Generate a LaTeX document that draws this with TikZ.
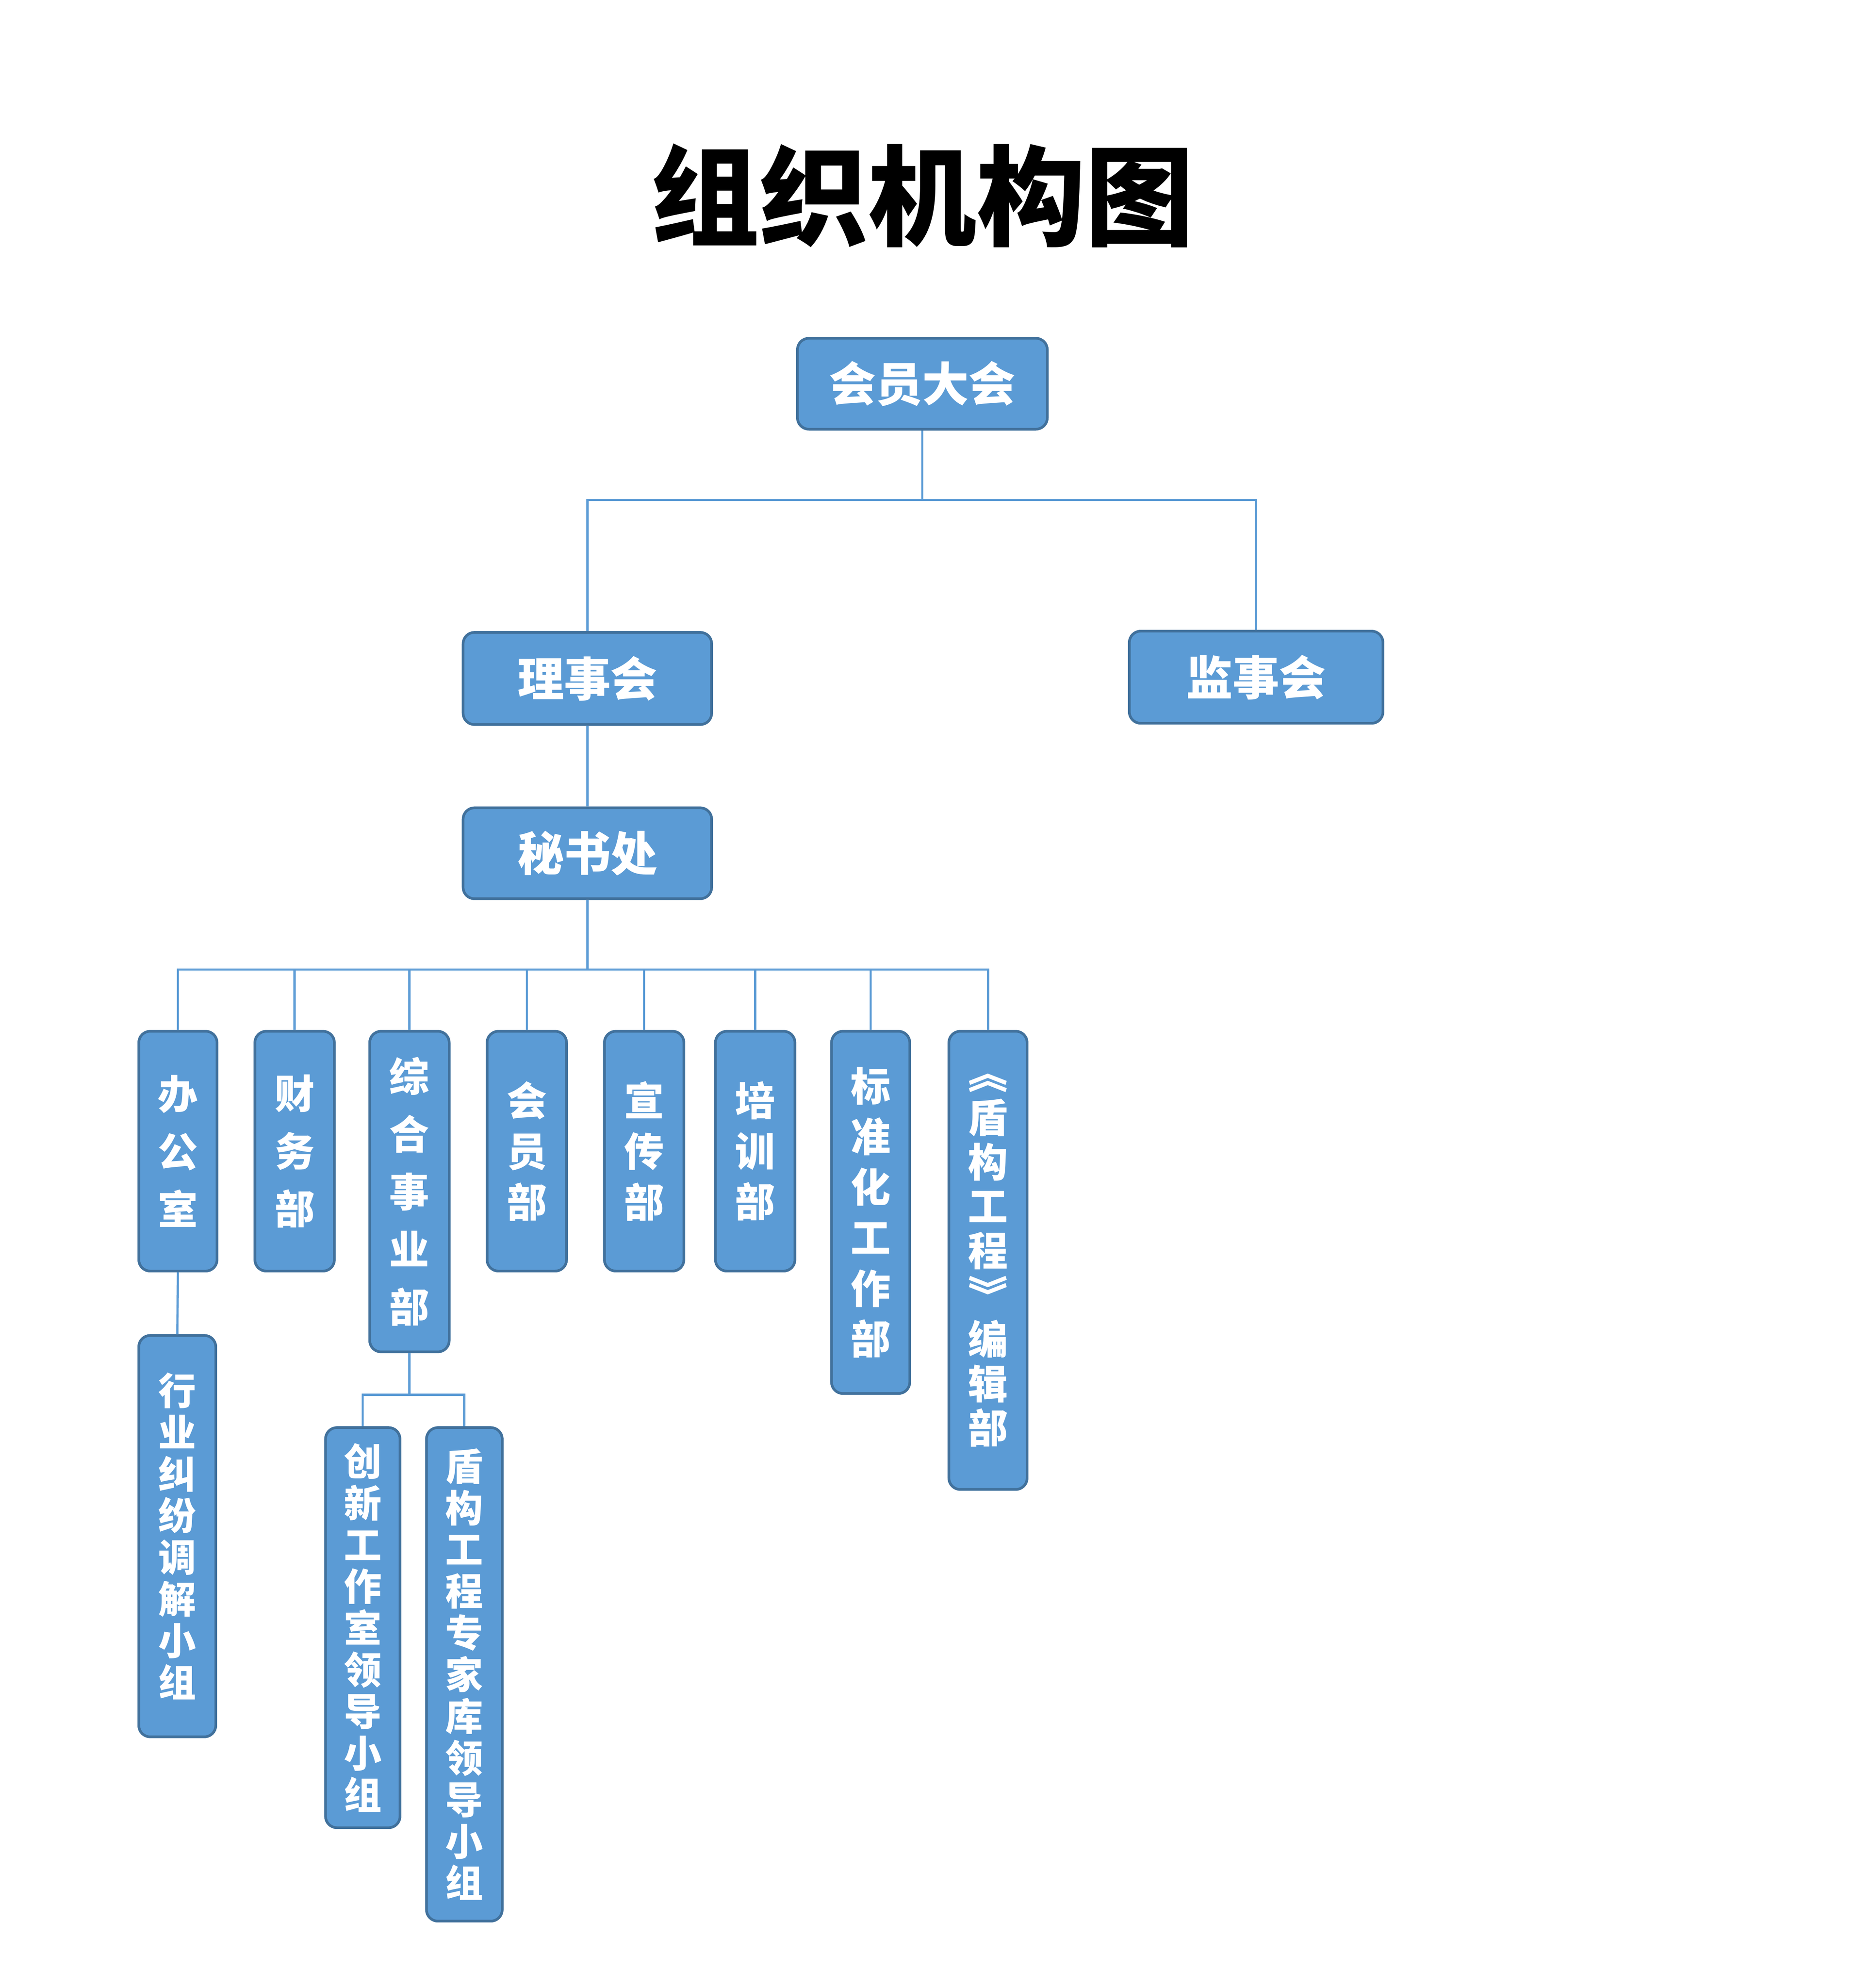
\documentclass[tikz,border=0pt]{standalone}
\usepackage{fontspec}
\newfontfamily\cjk{Noto Sans CJK SC}
\usetikzlibrary{positioning}
\definecolor{BoxClr}{RGB}{91,155,213}
\definecolor{EdgeClr}{RGB}{65,113,156}
\tikzset{
  box/.style={draw=EdgeClr,line width=0.6pt,fill=BoxClr,rounded corners=0.09cm,
    text=white,inner sep=0pt,align=center},
  wide/.style={box,font=\cjk\bfseries\fontsize{10.5}{12}\selectfont},
  tall/.style={box,font=\cjk\bfseries\fontsize{9}{13}\selectfont},
  thin/.style={box,font=\cjk\bfseries\fontsize{8.5}{9.4}\selectfont},
  link/.style={draw=BoxClr,line width=0.5pt}
}
\begin{document}
\begin{tikzpicture}
\useasboundingbox (0,0) rectangle (14.70,-15.75);

\node[font=\cjk\bfseries\fontsize{24.5}{26}\selectfont] (title) at (7.31,-1.55) {组织机构图};

% top levels
\node[wide,minimum width=1.98cm,minimum height=0.72cm] (dahui) at (7.31,-3.04) {会员大会};
\node[wide,minimum width=1.97cm,minimum height=0.73cm] (lishi) at (4.655,-5.375) {理事会};
\node[wide,minimum width=2.01cm,minimum height=0.73cm] (jianshi) at (9.955,-5.365) {监事会};
\node[wide,minimum width=1.97cm,minimum height=0.72cm] (mishu) at (4.655,-6.76) {秘书处};

% departments
\node[tall,minimum width=0.62cm,minimum height=1.90cm] (bangong) at (1.41,-9.12) {办\\公\\室};
\node[tall,minimum width=0.63cm,minimum height=1.90cm] (caiwu) at (2.335,-9.12) {财\\务\\部};
\node[tall,minimum width=0.63cm,minimum height=2.54cm] (zonghe) at (3.245,-9.44) {综\\合\\事\\业\\部};
\node[tall,font=\cjk\bfseries\fontsize{9}{11.4}\selectfont,minimum width=0.63cm,minimum height=1.90cm] (huiyuan) at (4.175,-9.12) {会\\员\\部};
\node[tall,font=\cjk\bfseries\fontsize{9}{11.4}\selectfont,minimum width=0.63cm,minimum height=1.90cm] (xuanchuan) at (5.105,-9.12) {宣\\传\\部};
\node[tall,font=\cjk\bfseries\fontsize{9}{11.4}\selectfont,minimum width=0.63cm,minimum height=1.90cm] (peixun) at (5.985,-9.12) {培\\训\\部};
\node[tall,font=\cjk\bfseries\fontsize{9}{11.4}\selectfont,minimum width=0.62cm,minimum height=2.87cm] (biaozhun) at (6.90,-9.605) {标\\准\\化\\工\\作\\部};
\node[tall,font=\cjk\bfseries\fontsize{9}{10}\selectfont,minimum width=0.62cm,minimum height=3.63cm] (bianji) at (7.83,-9.985) {︽\\盾\\构\\工\\程\\︾\\编\\辑\\部};

% groups
\node[thin,minimum width=0.61cm,minimum height=3.18cm] (jiufen) at (1.405,-12.17) {行\\业\\纠\\纷\\调\\解\\小\\组};
\node[thin,minimum width=0.59cm,minimum height=3.17cm] (chuangxin) at (2.875,-12.895) {创\\新\\工\\作\\室\\领\\导\\小\\组};
\node[thin,minimum width=0.60cm,minimum height=3.91cm] (zhuanjia) at (3.68,-13.265) {盾\\构\\工\\程\\专\\家\\库\\领\\导\\小\\组};

% connectors
\draw[link] (dahui.south) -- ++(0,-0.55) coordinate (bus1);
\draw[link] (lishi.north) |- (bus1) -| (jianshi.north);
\draw[link] (lishi.south) -- (mishu.north);
\draw[link] (mishu.south) -- ++(0,-0.55) coordinate (bus2);
\foreach \d in {bangong,caiwu,zonghe,huiyuan,xuanchuan,peixun,biaozhun,bianji}
  \draw[link] (bus2) -| (\d.north);
\draw[link] (bangong.south) -- (jiufen.north);
\draw[link] (zonghe.south) -- ++(0,-0.33) coordinate (bus3);
\draw[link] (chuangxin.north) |- (bus3) -| (zhuanjia.north);
\end{tikzpicture}
\end{document}
